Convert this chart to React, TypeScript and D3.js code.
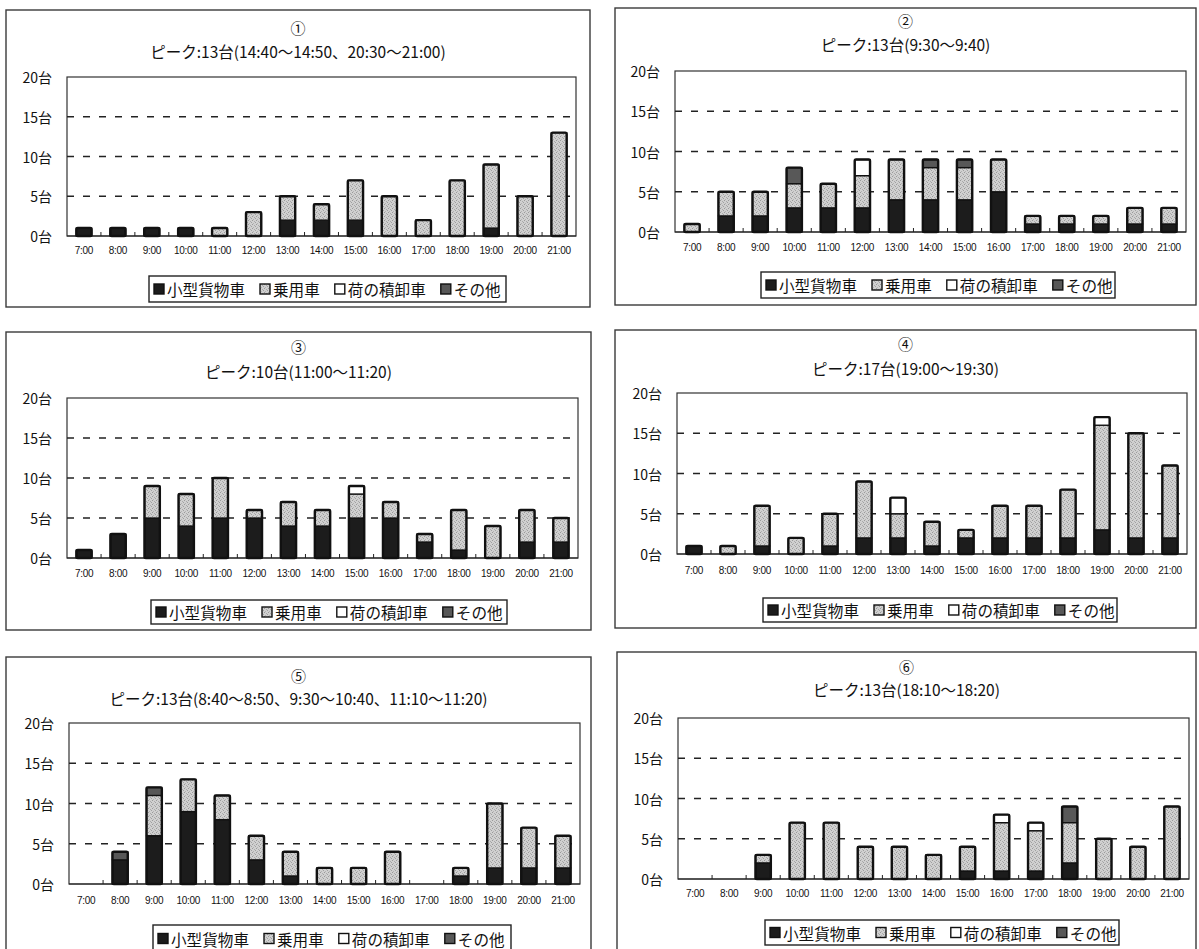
import React from 'react';
import * as d3 from 'd3';

// Hourly parking counts (台) for six survey points, split by vehicle type.
const HOURS = ['7:00', '8:00', '9:00', '10:00', '11:00', '12:00', '13:00', '14:00', '15:00', '16:00', '17:00', '18:00', '19:00', '20:00', '21:00'];
const SERIES = ['小型貨物車', '乗用車', '荷の積卸車', 'その他'];
const Y_TICKS = [0, 5, 10, 15, 20];
const Y_MAX = 20;

const PANEL_NUMBERS = ['①', '②', '③', '④', '⑤', '⑥'];
const PEAK_TITLES = [
  'ピーク:13台(14:40〜14:50、20:30〜21:00)',
  'ピーク:13台(9:30〜9:40)',
  'ピーク:10台(11:00〜11:20)',
  'ピーク:17台(19:00〜19:30)',
  'ピーク:13台(8:40〜8:50、9:30〜10:40、11:10〜11:20)',
  'ピーク:13台(18:10〜18:20)',
];

// ①
const p1Truck = [1, 1, 1, 1, 0, 0, 2, 2, 2, 0, 0, 0, 1, 0, 0];
const p1Car = [0, 0, 0, 0, 1, 3, 3, 2, 5, 5, 2, 7, 8, 5, 13];
const p1Load = [0, 0, 0, 0, 0, 0, 0, 0, 0, 0, 0, 0, 0, 0, 0];
const p1Other = [0, 0, 0, 0, 0, 0, 0, 0, 0, 0, 0, 0, 0, 0, 0];
// ②
const p2Truck = [0, 2, 2, 3, 3, 3, 4, 4, 4, 5, 1, 1, 1, 1, 1];
const p2Car = [1, 3, 3, 3, 3, 4, 5, 4, 4, 4, 1, 1, 1, 2, 2];
const p2Load = [0, 0, 0, 0, 0, 2, 0, 0, 0, 0, 0, 0, 0, 0, 0];
const p2Other = [0, 0, 0, 2, 0, 0, 0, 1, 1, 0, 0, 0, 0, 0, 0];
// ③
const p3Truck = [1, 3, 5, 4, 5, 5, 4, 4, 5, 5, 2, 1, 0, 2, 2];
const p3Car = [0, 0, 4, 4, 5, 1, 3, 2, 3, 2, 1, 5, 4, 4, 3];
const p3Load = [0, 0, 0, 0, 0, 0, 0, 0, 1, 0, 0, 0, 0, 0, 0];
const p3Other = [0, 0, 0, 0, 0, 0, 0, 0, 0, 0, 0, 0, 0, 0, 0];
// ④
const p4Truck = [1, 0, 1, 0, 1, 2, 2, 1, 2, 2, 2, 2, 3, 2, 2];
const p4Car = [0, 1, 5, 2, 4, 7, 3, 3, 1, 4, 4, 6, 13, 13, 9];
const p4Load = [0, 0, 0, 0, 0, 0, 2, 0, 0, 0, 0, 0, 1, 0, 0];
const p4Other = [0, 0, 0, 0, 0, 0, 0, 0, 0, 0, 0, 0, 0, 0, 0];
// ⑤
const p5Truck = [0, 3, 6, 9, 8, 3, 1, 0, 0, 0, 0, 1, 2, 2, 2];
const p5Car = [0, 0, 5, 4, 3, 3, 3, 2, 2, 4, 0, 1, 8, 5, 4];
const p5Load = [0, 0, 0, 0, 0, 0, 0, 0, 0, 0, 0, 0, 0, 0, 0];
const p5Other = [0, 1, 1, 0, 0, 0, 0, 0, 0, 0, 0, 0, 0, 0, 0];
// ⑥
const p6Truck = [0, 0, 2, 0, 0, 0, 0, 0, 1, 1, 1, 2, 0, 0, 0];
const p6Car = [0, 0, 1, 7, 7, 4, 4, 3, 3, 6, 5, 5, 5, 4, 9];
const p6Load = [0, 0, 0, 0, 0, 0, 0, 0, 0, 1, 1, 0, 0, 0, 0];
const p6Other = [0, 0, 0, 0, 0, 0, 0, 0, 0, 0, 0, 2, 0, 0, 0];

const PANEL_SERIES = [
  [p1Truck, p1Car, p1Load, p1Other],
  [p2Truck, p2Car, p2Load, p2Other],
  [p3Truck, p3Car, p3Load, p3Other],
  [p4Truck, p4Car, p4Load, p4Other],
  [p5Truck, p5Car, p5Load, p5Other],
  [p6Truck, p6Car, p6Load, p6Other],
];

// Page layout of each panel: frame box, plot area, text rows and legend box.
type Layout = {
  frame: [number, number, number, number];
  plot: [number, number, number, number]; // left, right, top (20台), zero line
  numY: number;
  titleY: number;
  tickY: number;
  legend: [number, number, number, number];
};

const LAYOUT: Layout[] = [
  { frame: [6, 10, 590, 307], plot: [67, 576, 77, 236], numY: 27, titleY: 51, tickY: 250, legend: [149, 276, 506, 302] },
  { frame: [615, 8, 1196, 305], plot: [675, 1186, 71, 232], numY: 20, titleY: 44, tickY: 247, legend: [761, 272, 1115, 298] },
  { frame: [6, 332, 591, 630], plot: [67, 578, 398, 558], numY: 346, titleY: 371, tickY: 573, legend: [151, 600, 507, 624] },
  { frame: [615, 330, 1196, 628], plot: [677, 1187, 393, 554], numY: 343, titleY: 368, tickY: 570, legend: [763, 598, 1117, 622] },
  { frame: [6, 657, 591, 965], plot: [69, 580, 723, 884], numY: 675, titleY: 698, tickY: 900, legend: [153, 925, 511, 952] },
  { frame: [617, 652, 1196, 965], plot: [678, 1189, 718, 879], numY: 666, titleY: 689, tickY: 893, legend: [765, 920, 1119, 945] },
];

const FILLS = ['#1c1c1c', 'url(#carFill)', '#ffffff', '#585858'];
const JP_FONT = '"Noto Sans CJK JP", "Noto Sans", sans-serif';
const NUM_FONT = '"Liberation Sans", Arial, sans-serif';

type Row = { hour: string; [k: string]: number | string };

function Panel({ idx }: { idx: number }) {
  const L = LAYOUT[idx];
  const [pl, pr, pt, pz] = L.plot;
  const series = PANEL_SERIES[idx];

  const rows: Row[] = HOURS.map((h, i) => {
    const r: Row = { hour: h };
    SERIES.forEach((s, k) => (r[s] = series[k][i]));
    return r;
  });

  const x = d3.scaleBand<string>().domain(HOURS).range([pl, pr]).paddingInner(0.55).paddingOuter(0.275);
  const y = d3.scaleLinear().domain([0, Y_MAX]).range([pz, pt]);
  const stacked = d3.stack<Row>().keys(SERIES).value((d, k) => d[k] as number)(rows);
  const totals = rows.map((r) => SERIES.reduce((a, s) => a + (r[s] as number), 0));

  const step = x.step();
  const cx = (L.frame[0] + L.frame[2]) / 2;

  // legend item offsets
  const [lx0, ly0, lx1, ly1] = L.legend;
  const lMid = (ly0 + ly1) / 2;
  const charW = 15.6;
  let cursor = lx0 + 5;
  const items = SERIES.map((s, k) => {
    const mx = cursor;
    const tx = mx + 13;
    cursor = tx + s.length * charW + 15;
    return { s, k, mx, tx };
  });

  return (
    <g>
      <rect x={L.frame[0]} y={L.frame[1]} width={L.frame[2] - L.frame[0]} height={L.frame[3] - L.frame[1]} fill="#fff" stroke="#3a3a3a" strokeWidth={1.4} />
      <text x={cx} y={L.numY} textAnchor="middle" dominantBaseline="central" fontFamily={JP_FONT} fontSize={15} fill="#111">
        {PANEL_NUMBERS[idx]}
      </text>
      <text x={cx} y={L.titleY} textAnchor="middle" dominantBaseline="central" fontFamily={JP_FONT} fontSize={15.5} fill="#111">
        {PEAK_TITLES[idx]}
      </text>

      {/* plot area */}
      <rect x={pl} y={pt} width={pr - pl} height={pz - pt} fill="none" stroke="#333" strokeWidth={1.2} />
      {Y_TICKS.filter((t) => t > 0 && t < Y_MAX).map((t) => (
        <line key={t} x1={pl} x2={pr} y1={y(t)} y2={y(t)} stroke="#222" strokeWidth={1.3} strokeDasharray="7,9" />
      ))}
      {Y_TICKS.map((t) => (
        <text key={'yl' + t} x={pl - 15} y={y(t)} textAnchor="end" dominantBaseline="central" fontFamily={JP_FONT} fontSize={14} fill="#111">
          {t + '台'}
        </text>
      ))}
      <line x1={pl} x2={pr} y1={pz} y2={pz} stroke="#222" strokeWidth={1.2} />
      {HOURS.slice(1).map((h) => (
        <line key={'tk' + h} x1={(x(h) as number) - (step - x.bandwidth()) / 2} x2={(x(h) as number) - (step - x.bandwidth()) / 2} y1={pz} y2={pz - 4} stroke="#222" strokeWidth={1} />
      ))}
      {HOURS.map((h) => (
        <text key={'xl' + h} x={(x(h) as number) + x.bandwidth() / 2} y={L.tickY} textAnchor="middle" dominantBaseline="central" fontFamily={NUM_FONT} fontSize={10} letterSpacing={-0.3} fill="#111">
          {h}
        </text>
      ))}

      {/* stacked bars */}
      {stacked.map((layer, k) =>
        layer.map((d, i) =>
          d[1] - d[0] > 0 ? (
            <rect key={'b' + k + '-' + i} x={x(HOURS[i])} y={y(d[1])} width={x.bandwidth()} height={y(d[0]) - y(d[1])} fill={FILLS[k]} stroke="#111" strokeWidth={1.3} />
          ) : null
        )
      )}
      {totals.map((t, i) =>
        t > 0 ? (
          <rect key={'o' + i} x={x(HOURS[i])} y={y(t)} width={x.bandwidth()} height={y(0) - y(t)} fill="none" stroke="#111" strokeWidth={2.4} rx={1.5} />
        ) : null
      )}

      {/* legend */}
      <rect x={lx0} y={ly0} width={lx1 - lx0} height={ly1 - ly0} fill="#fff" stroke="#222" strokeWidth={1.4} />
      {items.map(({ s, k, mx, tx }) => (
        <g key={'lg' + k}>
          <rect x={mx} y={lMid - 5} width={10} height={10} fill={FILLS[k]} stroke="#111" strokeWidth={1.4} />
          <text x={tx} y={lMid} dominantBaseline="central" fontFamily={JP_FONT} fontSize={15.6} fill="#111">
            {s}
          </text>
        </g>
      ))}
    </g>
  );
}

export default function App() {
  return (
    <svg width={1199} height={949} viewBox="0 0 1199 949" style={{ position: 'absolute', left: 0, top: 0, display: 'block', background: '#fff' }}>
      <defs>
        <pattern id="carFill" width={4} height={4} patternUnits="userSpaceOnUse">
          <rect width={4} height={4} fill="#d0d0d0" />
          <rect x={0} y={0} width={1} height={1} fill="#9a9a9a" />
          <rect x={2} y={1} width={1} height={1} fill="#aaaaaa" />
          <rect x={1} y={3} width={1} height={1} fill="#b2b2b2" />
          <rect x={3} y={2} width={1} height={1} fill="#a0a0a0" />
        </pattern>
      </defs>
      <rect width={1199} height={949} fill="#fff" />
      {LAYOUT.map((_, i) => (
        <Panel key={i} idx={i} />
      ))}
    </svg>
  );
}
